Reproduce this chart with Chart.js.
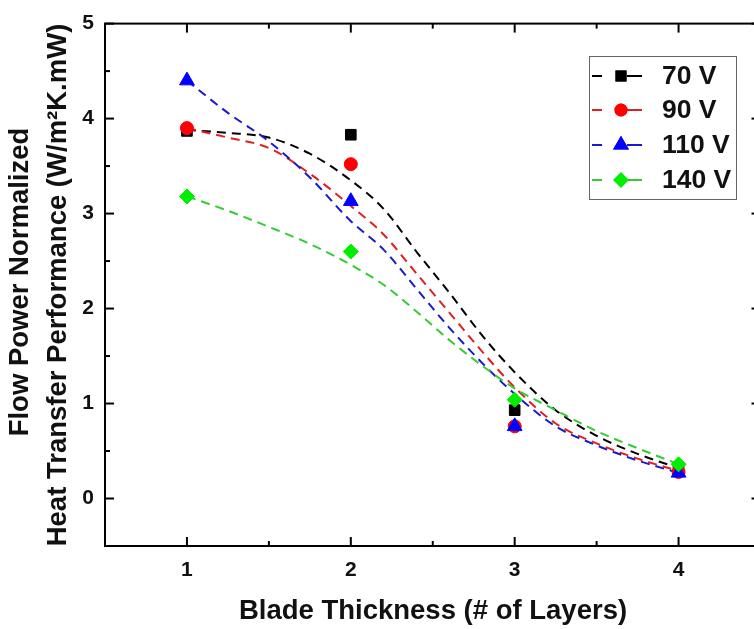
<!DOCTYPE html>
<html>
<head>
<meta charset="utf-8">
<script src="https://cdn.jsdelivr.net/npm/chart.js@4.4.1/dist/chart.umd.min.js"></script>
<style>
    html, body { margin: 0; padding: 0; background: #fff; overflow: hidden; }
    #chart { display: block; }
</style>
</head>
<body>
<canvas id="chart" width="770" height="629"></canvas>
<script>
// Measured points
const layers = [1, 2, 3, 4];
const v70 = [3.87, 3.83, 0.93, 0.30];
const v90 = [3.90, 3.52, 0.76, 0.28];
const v110 = [4.40, 3.13, 0.76, 0.27];
const v140 = [3.18, 2.60, 1.04, 0.36];

// Fitted (dashed) curves
const fitX = [1, 1.25, 1.5, 1.75, 2, 2.2, 2.4, 2.6, 2.8, 3, 3.25, 3.5, 3.75, 4];
const fit70 = [3.88, 3.85, 3.80, 3.63, 3.35, 3.05, 2.60, 2.17, 1.72, 1.33, 0.93, 0.66, 0.47, 0.32];
const fit90 = [3.90, 3.80, 3.69, 3.42, 3.08, 2.78, 2.37, 1.96, 1.55, 1.17, 0.79, 0.58, 0.42, 0.29];
const fit110 = [4.40, 4.06, 3.76, 3.38, 2.92, 2.62, 2.21, 1.80, 1.43, 1.10, 0.76, 0.56, 0.40, 0.27];
const fit140 = [3.18, 3.03, 2.86, 2.68, 2.46, 2.25, 1.97, 1.67, 1.40, 1.16, 0.93, 0.71, 0.53, 0.36];

// Axis ticks
const xTicks = [1, 2, 3, 4];
const xMinor = [1.5, 2.5, 3.5];
const yTicks = [0, 1, 2, 3, 4, 5];
const yMinor = [-0.5, 0.5, 1.5, 2.5, 3.5, 4.5];

const seriesNames = ["70 V", "90 V", "110 V", "140 V"];
const markerColors = ["#000000", "#ff0000", "#0000ff", "#00ee00"];
const lineColors = ["#000000", "#e02020", "#1a1acc", "#33cc33"];
const markerStyles = ["rect", "circle", "triangle", "rectRot"];
const markerSizes = [7.5, 6.5, 8.5, 7.5];

const FONT = "'Liberation Sans', Arial, sans-serif";

const toPoints = (xs, ys) => xs.map((x, i) => ({ x, y: ys[i] }));

const fits = [fit70, fit90, fit110, fit140];
const points = [v70, v90, v110, v140];

// Higher "order" is drawn first, so the curves sit under the markers
// and later series sit on top of earlier ones
const fitSets = fits.map((f, i) => ({
    label: seriesNames[i] + " fit",
    data: toPoints(fitX, f),
    order: 20 - i,
    showLine: true,
    borderColor: lineColors[i],
    borderWidth: 2,
    borderDash: [9, 6],
    pointRadius: 0,
    cubicInterpolationMode: "monotone",
    fill: false
}));

const pointSets = points.map((p, i) => ({
    label: seriesNames[i],
    data: toPoints(layers, p),
    order: 10 - i,
    showLine: false,
    pointStyle: markerStyles[i],
    pointRadius: markerSizes[i],
    pointBackgroundColor: markerColors[i],
    pointBorderColor: markerColors[i],
    pointBorderWidth: 1
}));

// Frame, inward ticks, axis titles and legend box
const framePlugin = {
    id: "frame",
    afterDraw(chart) {
        const { ctx, chartArea: a, scales: { x, y } } = chart;
        ctx.save();
        ctx.strokeStyle = "#000";
        ctx.lineWidth = 2;
        ctx.strokeRect(a.left, a.top, a.right - a.left, a.bottom - a.top);

        const tick = (x1, y1, x2, y2) => {
            ctx.beginPath(); ctx.moveTo(x1, y1); ctx.lineTo(x2, y2); ctx.stroke();
        };
        xTicks.forEach(v => {
            const px = x.getPixelForValue(v);
            tick(px, a.bottom, px, a.bottom - 9);
            tick(px, a.top, px, a.top + 9);
        });
        xMinor.forEach(v => {
            const px = x.getPixelForValue(v);
            tick(px, a.bottom, px, a.bottom - 5);
            tick(px, a.top, px, a.top + 5);
        });
        yTicks.forEach(v => {
            const py = y.getPixelForValue(v);
            tick(a.left, py, a.left + 9, py);
            tick(a.right, py, a.right - 9, py);
        });
        yMinor.forEach(v => {
            const py = y.getPixelForValue(v);
            tick(a.left, py, a.left + 5, py);
            tick(a.right, py, a.right - 5, py);
        });

        // Axis titles
        ctx.fillStyle = "#111";
        ctx.textAlign = "center";
        ctx.textBaseline = "middle";
        ctx.font = "bold 27.5px " + FONT;
        ctx.fillText("Blade Thickness (# of Layers)", 433, 611);

        ctx.save();
        ctx.translate(20, 282);
        ctx.rotate(-Math.PI / 2);
        ctx.fillText("Flow Power Normalized", 0, 0);
        ctx.restore();
        ctx.save();
        ctx.translate(58, 285);
        ctx.rotate(-Math.PI / 2);
        ctx.fillText("Heat Transfer Performance (W/m\u00b2K.mW)", 0, 0);
        ctx.restore();

        // Legend
        ctx.lineWidth = 1;
        ctx.strokeStyle = "#666";
        ctx.strokeRect(589.5, 56.5, 147, 143);
        const rows = [76, 110, 145, 180];
        pointSets.forEach((ds, i) => {
            const ry = rows[i];
            ctx.strokeStyle = lineColors[i];
            ctx.lineWidth = 2;
            tick(592, ry, 602, ry);
            tick(627, ry, 642, ry);
            Chart.helpers.drawPoint(ctx, {
                pointStyle: markerStyles[i],
                radius: markerSizes[i] * 0.85,
                borderWidth: 1,
                rotation: 0
            }, 621, ry);
            ctx.fillStyle = markerColors[i];
            ctx.strokeStyle = markerColors[i];
            ctx.fill();
            ctx.stroke();
            ctx.fillStyle = "#111";
            ctx.textAlign = "left";
            ctx.font = "bold 26.5px " + FONT;
            ctx.fillText(seriesNames[i], 662, ry + 1);
        });
        ctx.restore();
    }
};

new Chart(document.getElementById("chart"), {
    type: "scatter",
    data: { datasets: [...fitSets, ...pointSets] },
    options: {
        responsive: false,
        animation: false,
        layout: { padding: { top: 17, right: 9, left: 0, bottom: 0 } },
        plugins: {
            legend: { display: false },
            tooltip: { enabled: false }
        },
        scales: {
            x: {
                type: "linear",
                min: 0.5,
                max: 4.5,
                grid: { display: false, drawTicks: false },
                border: { display: false },
                afterBuildTicks: s => { s.ticks = xTicks.map(v => ({ value: v })); },
                afterFit: s => { s.height = 83; },
                ticks: {
                    padding: 12,
                    color: "#111",
                    font: { family: FONT, size: 21, weight: "bold" }
                }
            },
            y: {
                type: "linear",
                min: -0.5,
                max: 5,
                grid: { display: false, drawTicks: false },
                border: { display: false },
                afterBuildTicks: s => { s.ticks = yTicks.map(v => ({ value: v })); },
                afterFit: s => { s.width = 105; },
                ticks: {
                    padding: 11,
                    color: "#111",
                    font: { family: FONT, size: 21, weight: "bold" }
                }
            }
        }
    },
    plugins: [framePlugin]
});
</script>
</body>
</html>
